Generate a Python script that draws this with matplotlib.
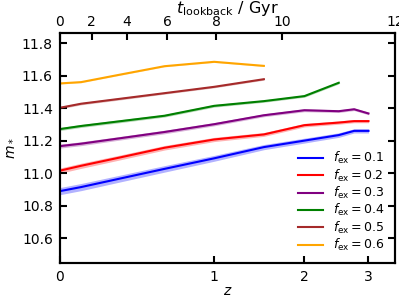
import numpy as np
import matplotlib.pyplot as plt

# redshift nodes of the tracks
z = np.array([0.0, 0.1, 0.3, 0.6, 1.0, 1.5, 2.0, 2.5, 2.75, 3.0])

# median stellar mass per accreted fraction
m_01 = [10.891, 10.916, 10.966, 11.028, 11.093, 11.162, 11.202, 11.236, 11.262, 11.262]
m_02 = [11.017, 11.047, 11.096, 11.158, 11.209, 11.240, 11.297, 11.313, 11.322, 11.322]
m_03 = [11.168, 11.183, 11.215, 11.255, 11.303, 11.358, 11.389, 11.383, 11.395, 11.369]
m_04 = [11.273, 11.292, 11.320, 11.355, 11.416, 11.445, 11.476, 11.558]
m_05 = [11.404, 11.429, 11.458, 11.494, 11.533, 11.580]
m_06 = [11.554, 11.562, 11.606, 11.660, 11.687, 11.662]

# half width of the shaded band
e_01 = [0.022, 0.022, 0.021, 0.020, 0.018, 0.016, 0.015, 0.014, 0.013, 0.013]
e_02 = [0.016, 0.016, 0.015, 0.014, 0.013, 0.012, 0.011, 0.010, 0.010, 0.010]
e_03 = [0.012, 0.012, 0.011, 0.011, 0.010, 0.009, 0.009, 0.008, 0.008, 0.008]
e_04 = [0.009, 0.009, 0.009, 0.008, 0.008, 0.007, 0.007, 0.007]
e_05 = [0.007, 0.007, 0.007, 0.006, 0.006, 0.006]
e_06 = [0.004, 0.004, 0.004, 0.004, 0.004, 0.004]

f_ex = [0.1, 0.2, 0.3, 0.4, 0.5, 0.6]
colours = ['blue', 'red', 'purple', 'green', 'brown', 'orange']

z_ticks = [0, 1, 2, 3]
t_ticks = [0, 2, 4, 6, 8, 10, 12]


def lookback(H0=67.74, Om=0.3089):
    # flat LCDM lookback time in Gyr on a redshift grid
    zg = np.linspace(0, 10, 20001)
    E = np.sqrt(Om * (1 + zg)**3 + (1 - Om))
    f = 1.0 / ((1 + zg) * E)
    t = np.concatenate([[0], np.cumsum(0.5 * (f[1:] + f[:-1]) * np.diff(zg))])
    t *= 977.8 / H0
    return zg, t


def run_plot():
    zg, tg = lookback()
    z_of_t = lambda tt: np.interp(tt, tg, zg)

    fig = plt.figure(figsize=(3.99, 2.99), dpi=100)
    ax = fig.add_axes([0.150, 0.120, 0.840, 0.770])

    series = [m_01, m_02, m_03, m_04, m_05, m_06]
    errs = [e_01, e_02, e_03, e_04, e_05, e_06]
    for m, e, c, f in zip(series, errs, colours, f_ex):
        m = np.array(m)
        e = np.array(e)
        x = np.log10(1 + z[:len(m)])
        ax.fill_between(x, m - e, m + e, color=c, alpha=0.3, lw=0)
        ax.plot(x, m, color=c, lw=1.5, label=r'$f_{\rm ex} = %.1f$' % f)

    xmax = np.log10(1 + z_of_t(12.0))
    ax.set_xlim(0, xmax)
    ax.set_ylim(10.448, 11.865)
    ax.set_xticks(np.log10(1 + np.array(z_ticks)))
    ax.set_xticklabels([str(v) for v in z_ticks])
    ax.set_yticks([10.6, 10.8, 11.0, 11.2, 11.4, 11.6, 11.8])
    ax.set_xlabel(r'$z$', fontsize=10, labelpad=0)
    ax.set_ylabel(r'$m_*$', fontsize=10)
    ax.tick_params(direction='in', length=5, width=1.5, labelsize=10,
                   right=True, top=False, pad=5)

    top = ax.twiny()
    top.set_xlim(ax.get_xlim())
    top.set_xticks(np.log10(1 + z_of_t(np.array(t_ticks, dtype=float))))
    top.set_xticklabels([str(v) for v in t_ticks])
    top.tick_params(direction='in', length=5, width=1.5, labelsize=10, pad=3)
    top.set_xlabel(r'$t_{\rm lookback}$ / Gyr', fontsize=11.5, labelpad=1)

    for a in (ax, top):
        for s in a.spines.values():
            s.set_linewidth(1.5)

    ax.legend(loc='lower right', frameon=False, fontsize=9,
              handlelength=2.0, labelspacing=0.1, borderaxespad=0.4)

    fig.savefig('out.png', dpi=100)


if __name__ == '__main__':
    run_plot()
